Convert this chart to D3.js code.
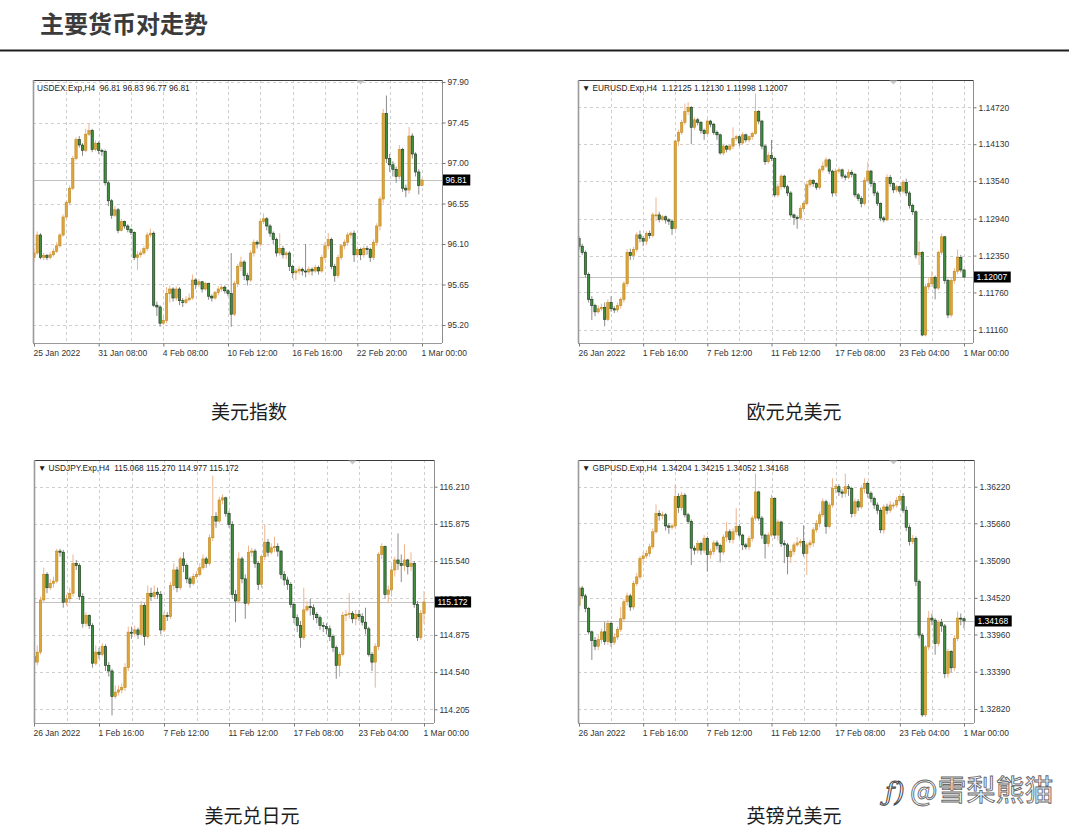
<!DOCTYPE html>
<html><head><meta charset="utf-8">
<script src="https://cdn.jsdelivr.net/npm/d3@7"></script>
<style>body{margin:0;background:#fff}svg{display:block}</style>
</head><body>
<svg id="c" width="1069" height="837"></svg>
<script>
// ---------------- DATA ----------------
const usdexOpen0 = 95.95;
const usdexClose = [96.00,96.20,95.95,95.97,95.95,95.98,96.02,96.08,96.20,96.40,
 96.56,96.72,97.05,97.26,97.20,97.14,97.32,97.36,97.15,97.22,
 97.14,97.13,96.78,96.58,96.42,96.48,96.25,96.35,96.30,96.26,
 96.23,95.95,95.98,96.00,96.05,96.20,96.22,95.42,95.40,95.22,
 95.25,95.55,95.60,95.50,95.60,95.47,95.45,95.48,95.50,95.70,
 95.65,95.68,95.60,95.66,95.52,95.50,95.56,95.60,95.62,95.58,
 95.55,95.32,95.66,95.85,95.90,95.75,95.70,96.00,96.12,96.10,
 96.35,96.38,96.30,96.22,96.15,96.00,96.05,95.98,96.00,95.85,
 95.78,95.80,95.82,95.80,95.79,95.82,95.80,95.84,95.80,95.95,
 96.08,96.15,95.85,95.75,95.95,96.08,96.12,96.20,96.22,95.98,
 96.04,95.98,96.05,96.04,95.95,96.12,96.30,96.60,97.55,97.05,
 96.98,96.93,96.85,97.15,96.72,96.70,97.30,97.10,96.90,96.75,
 96.81];
const usdexHigh = [96.05,96.24,96.22,96.00,95.99,96.01,96.05,96.12,96.22,96.43,
 96.58,96.75,97.08,97.29,97.30,97.22,97.38,97.44,97.38,97.25,
 97.24,97.16,97.15,96.80,96.60,96.52,96.50,96.38,96.36,96.32,
 96.28,96.24,96.02,96.03,96.08,96.23,96.27,96.24,95.46,95.42,
 95.30,95.62,95.64,95.62,95.63,95.62,95.50,95.52,95.55,95.76,
 95.72,95.71,95.69,95.68,95.67,95.54,95.58,95.63,95.64,95.64,
 95.60,96.00,95.69,95.88,95.96,95.92,95.78,96.03,96.15,96.14,
 96.38,96.44,96.40,96.32,96.24,96.17,96.22,96.08,96.02,96.02,
 95.87,95.83,95.85,95.84,96.10,95.85,95.84,95.87,95.86,95.98,
 96.12,96.22,96.17,95.88,95.98,96.10,96.15,96.23,96.24,96.25,
 96.07,96.06,96.08,96.08,96.06,96.15,96.33,96.63,97.60,97.75,
 97.10,97.02,96.96,97.20,97.17,96.76,97.40,97.33,97.12,96.93,
 96.83];
const usdexLow = [95.90,95.98,95.93,95.92,95.92,95.93,95.96,96.00,96.06,96.18,
 96.38,96.53,96.70,97.03,97.17,97.08,97.12,97.30,97.12,97.13,
 97.10,97.08,96.75,96.52,96.38,96.40,96.22,96.24,96.27,96.23,
 96.20,95.92,95.81,95.95,95.98,96.02,96.17,95.40,95.30,95.18,
 95.20,95.22,95.45,95.46,95.47,95.42,95.40,95.43,95.46,95.48,
 95.60,95.62,95.56,95.58,95.48,95.46,95.48,95.53,95.57,95.55,
 95.52,95.18,95.30,95.62,95.80,95.70,95.64,95.68,95.96,96.05,
 96.07,96.32,96.25,96.18,96.10,95.96,95.97,95.94,95.93,95.80,
 95.72,95.70,95.76,95.75,95.73,95.76,95.75,95.78,95.76,95.78,
 95.92,96.04,95.82,95.68,95.72,95.92,96.04,96.08,96.16,95.90,
 95.95,95.92,95.95,95.98,95.90,95.92,96.08,96.25,96.55,97.00,
 96.90,96.85,96.78,96.82,96.68,96.62,96.66,97.05,96.85,96.65,
 96.74];
const usdexTicks = [97.90,97.45,97.00,96.55,96.10,95.65,95.20];

const eurusdOpen0 = 1.1262;
const eurusdClose = [1.1250,1.1240,1.1205,1.1165,1.1155,1.1145,1.1150,1.1152,1.1133,1.1160,
 1.1150,1.1148,1.1155,1.1165,1.1190,1.1240,1.1235,1.1245,1.1268,1.1262,
 1.1258,1.1270,1.1267,1.1300,1.1300,1.1293,1.1297,1.1292,1.1290,1.1278,
 1.1418,1.1432,1.1448,1.1465,1.1472,1.1440,1.1452,1.1448,1.1435,1.1430,
 1.1450,1.1445,1.1432,1.1428,1.1399,1.1410,1.1405,1.1410,1.1422,1.1425,
 1.1415,1.1428,1.1420,1.1425,1.1430,1.1465,1.1450,1.1410,1.1385,1.1395,
 1.1390,1.1332,1.1345,1.1362,1.1345,1.1335,1.1300,1.1296,1.1295,1.1310,
 1.1318,1.1348,1.1355,1.1350,1.1344,1.1372,1.1378,1.1388,1.1370,1.1335,
 1.1370,1.1372,1.1362,1.1360,1.1368,1.1365,1.1332,1.1326,1.1318,1.1355,
 1.1370,1.1350,1.1335,1.1318,1.1295,1.1292,1.1360,1.1350,1.1340,1.1345,
 1.1338,1.1352,1.1335,1.1315,1.1305,1.1236,1.1240,1.1108,1.1185,1.1190,
 1.1200,1.1183,1.1240,1.1265,1.1195,1.1140,1.1195,1.1210,1.1232,1.1212,
 1.12007];
const eurusdHigh = [1.1266,1.1254,1.1243,1.1208,1.1170,1.1158,1.1155,1.1158,1.1160,1.1165,
 1.1170,1.1154,1.1160,1.1168,1.1194,1.1245,1.1246,1.1249,1.1272,1.1275,
 1.1266,1.1274,1.1275,1.1304,1.1328,1.1305,1.1300,1.1299,1.1295,1.1293,
 1.1420,1.1436,1.1452,1.1478,1.1480,1.1474,1.1456,1.1455,1.1450,1.1438,
 1.1453,1.1452,1.1447,1.1435,1.1430,1.1414,1.1412,1.1413,1.1440,1.1428,
 1.1427,1.1432,1.1430,1.1427,1.1433,1.1494,1.1468,1.1452,1.1412,1.1400,
 1.1420,1.1393,1.1350,1.1365,1.1364,1.1348,1.1338,1.1302,1.1299,1.1315,
 1.1322,1.1352,1.1358,1.1357,1.1352,1.1375,1.1385,1.1392,1.1390,1.1372,
 1.1374,1.1376,1.1374,1.1365,1.1373,1.1372,1.1367,1.1335,1.1330,1.1360,
 1.1385,1.1372,1.1353,1.1338,1.1320,1.1298,1.1365,1.1364,1.1352,1.1348,
 1.1347,1.1356,1.1358,1.1338,1.1318,1.1307,1.1258,1.1242,1.1190,1.1200,
 1.1210,1.1203,1.1243,1.1270,1.1266,1.1198,1.1199,1.1215,1.1245,1.1236,
 1.1213];
const eurusdLow = [1.1244,1.1236,1.1200,1.1160,1.1132,1.1138,1.1142,1.1146,1.1122,1.1130,
 1.1145,1.1143,1.1144,1.1150,1.1160,1.1185,1.1228,1.1228,1.1240,1.1256,
 1.1250,1.1252,1.1262,1.1264,1.1290,1.1288,1.1290,1.1286,1.1284,1.1268,
 1.1276,1.1410,1.1428,1.1444,1.1460,1.1413,1.1436,1.1443,1.1430,1.1420,
 1.1428,1.1440,1.1428,1.1420,1.1396,1.1395,1.1400,1.1402,1.1405,1.1418,
 1.1410,1.1412,1.1416,1.1416,1.1420,1.1428,1.1445,1.1405,1.1380,1.1382,
 1.1386,1.1328,1.1328,1.1340,1.1342,1.1330,1.1296,1.1284,1.1278,1.1292,
 1.1305,1.1315,1.1344,1.1345,1.1340,1.1340,1.1368,1.1375,1.1365,1.1329,
 1.1330,1.1366,1.1358,1.1355,1.1357,1.1360,1.1328,1.1322,1.1312,1.1315,
 1.1352,1.1345,1.1330,1.1314,1.1290,1.1288,1.1290,1.1345,1.1335,1.1336,
 1.1333,1.1334,1.1330,1.1310,1.1300,1.1230,1.1220,1.1106,1.1106,1.1180,
 1.1185,1.1165,1.1180,1.1236,1.1190,1.1135,1.1136,1.1190,1.1205,1.1208,
 1.11998];
const eurusdTicks = [1.14720,1.14130,1.13540,1.12940,1.12350,1.11760,1.11160];

const usdjpyOpen0 = 114.68;
const usdjpyClose = [114.63,114.72,115.19,115.42,115.30,115.34,115.36,115.63,115.62,115.17,
 115.20,115.25,115.52,115.50,115.22,114.98,115.05,114.96,114.62,114.72,
 114.70,114.77,114.60,114.55,114.32,114.36,114.38,114.40,114.58,114.90,
 114.89,114.92,114.88,115.14,114.86,115.25,115.22,115.26,115.24,114.92,
 115.05,115.04,115.32,115.46,115.30,115.56,115.50,115.38,115.34,115.40,
 115.42,115.48,115.56,115.52,115.75,115.94,115.90,116.09,116.11,115.97,
 115.87,115.24,115.18,115.56,115.38,115.16,115.62,115.63,115.52,115.33,
 115.58,115.71,115.62,115.66,115.67,115.63,115.42,115.37,115.33,115.15,
 115.03,114.96,114.85,115.10,115.13,115.12,115.06,115.03,114.96,114.95,
 114.93,114.86,114.76,114.60,114.70,115.05,115.06,115.07,115.02,115.06,
 115.04,114.99,114.93,114.70,114.63,114.77,115.60,115.67,115.24,115.28,
 115.46,115.55,115.52,115.50,115.55,115.49,115.52,115.15,114.85,115.07,
 115.172];
const usdjpyHigh = [114.72,114.78,115.22,115.48,115.44,115.38,115.40,115.65,115.65,115.64,
 115.24,115.30,115.60,115.55,115.52,115.25,115.08,115.06,114.98,114.78,
 114.76,114.80,114.79,114.63,114.57,114.42,114.42,114.44,114.62,114.95,
 114.95,114.96,114.94,115.18,115.16,115.32,115.30,115.32,115.30,115.27,
 115.08,115.08,115.35,115.52,115.49,115.58,115.62,115.52,115.40,115.43,
 115.45,115.52,115.60,115.58,115.78,116.31,115.98,116.12,116.14,116.12,
 115.99,115.90,115.28,115.62,115.58,115.42,115.68,115.66,115.65,115.54,
 115.60,115.87,115.74,115.70,115.76,115.70,115.64,115.45,115.40,115.35,
 115.17,115.06,115.00,115.30,115.18,115.20,115.15,115.08,115.05,114.99,
 114.98,114.96,114.88,114.78,114.72,115.08,115.10,115.25,115.09,115.10,
 115.10,115.07,115.12,114.95,114.72,114.80,115.62,115.70,115.68,115.32,
 115.50,115.58,115.79,115.60,115.69,115.56,115.62,115.54,115.18,115.10,
 115.27];
const usdjpyLow = [114.45,114.60,114.70,115.17,115.25,115.28,115.30,115.34,115.58,115.12,
 115.14,115.17,115.22,115.46,115.19,114.94,114.95,114.93,114.58,114.60,
 114.66,114.68,114.55,114.50,114.15,114.30,114.33,114.35,114.37,114.55,
 114.84,114.86,114.84,114.86,114.78,114.84,115.18,115.20,115.20,114.88,
 114.90,115.00,115.02,115.28,115.26,115.28,115.44,115.34,115.30,115.32,
 115.38,115.40,115.46,115.48,115.50,115.72,115.84,115.88,116.05,115.94,
 115.84,115.20,114.99,115.16,115.34,115.02,115.14,115.58,115.48,115.28,
 115.30,115.55,115.58,115.60,115.62,115.58,115.38,115.32,115.28,115.12,
 114.98,114.90,114.76,114.83,115.08,115.05,115.01,114.98,114.92,114.90,
 114.88,114.82,114.72,114.48,114.50,114.68,115.00,115.02,114.98,114.96,
 115.00,114.96,114.88,114.68,114.55,114.40,114.74,115.56,115.20,115.16,
 115.22,115.40,115.46,115.35,115.45,115.42,115.45,115.12,114.82,114.83,
 114.977];
const usdjpyTicks = [116.210,115.875,115.540,115.205,114.875,114.540,114.205];

const gbpusdOpen0 = 1.3440;
const gbpusdClose = [1.3467,1.3455,1.3436,1.3400,1.3387,1.3378,1.3388,1.3400,1.3385,1.3413,
 1.3384,1.3392,1.3404,1.3420,1.3446,1.3455,1.3438,1.3474,1.3484,1.3512,
 1.3516,1.3520,1.3530,1.3553,1.3581,1.3578,1.3579,1.3562,1.3560,1.3562,
 1.3607,1.3590,1.3609,1.3579,1.3569,1.3528,1.3525,1.3535,1.3525,1.3543,
 1.3518,1.3523,1.3536,1.3532,1.3522,1.3545,1.3553,1.3541,1.3553,1.3561,
 1.3548,1.3533,1.3530,1.3543,1.3574,1.3614,1.3574,1.3548,1.3535,1.3548,
 1.3604,1.3548,1.3568,1.3535,1.3533,1.3515,1.3523,1.3533,1.3536,1.3538,
 1.3520,1.3533,1.3536,1.3556,1.3566,1.3579,1.3599,1.3561,1.3594,1.3619,
 1.3622,1.3614,1.3612,1.3622,1.3619,1.3581,1.3599,1.3591,1.3619,1.3627,
 1.3612,1.3604,1.3594,1.3586,1.3556,1.3591,1.3586,1.3594,1.3594,1.3601,
 1.3607,1.3586,1.3560,1.3538,1.3543,1.3477,1.3395,1.3273,1.3377,1.3421,
 1.3418,1.3382,1.3414,1.3409,1.3336,1.3370,1.3345,1.3390,1.3421,1.3420,
 1.34168];
const gbpusdHigh = [1.3470,1.3470,1.3458,1.3438,1.3402,1.3392,1.3395,1.3405,1.3415,1.3418,
 1.3416,1.3398,1.3408,1.3438,1.3450,1.3460,1.3458,1.3478,1.3490,1.3516,
 1.3522,1.3525,1.3535,1.3558,1.3595,1.3586,1.3584,1.3582,1.3566,1.3566,
 1.3625,1.3612,1.3614,1.3612,1.3582,1.3572,1.3532,1.3540,1.3538,1.3548,
 1.3546,1.3527,1.3540,1.3540,1.3535,1.3549,1.3568,1.3557,1.3558,1.3589,
 1.3565,1.3550,1.3536,1.3547,1.3578,1.3642,1.3616,1.3577,1.3550,1.3552,
 1.3610,1.3606,1.3572,1.3570,1.3540,1.3536,1.3527,1.3537,1.3545,1.3542,
 1.3563,1.3537,1.3540,1.3560,1.3571,1.3584,1.3604,1.3602,1.3598,1.3635,
 1.3626,1.3626,1.3618,1.3642,1.3626,1.3622,1.3604,1.3603,1.3624,1.3635,
 1.3630,1.3615,1.3607,1.3598,1.3590,1.3595,1.3596,1.3600,1.3598,1.3606,
 1.3611,1.3612,1.3592,1.3564,1.3548,1.3546,1.3480,1.3398,1.3380,1.3432,
 1.3428,1.3421,1.3418,1.3420,1.3412,1.3374,1.3372,1.3395,1.3431,1.3428,
 1.34215];
const gbpusdLow = [1.3432,1.3450,1.3430,1.3396,1.3357,1.3372,1.3372,1.3382,1.3380,1.3380,
 1.3377,1.3380,1.3388,1.3400,1.3415,1.3440,1.3432,1.3434,1.3470,1.3480,
 1.3505,1.3512,1.3515,1.3526,1.3550,1.3570,1.3572,1.3555,1.3550,1.3556,
 1.3558,1.3582,1.3585,1.3575,1.3565,1.3502,1.3518,1.3520,1.3518,1.3520,
 1.3492,1.3512,1.3518,1.3526,1.3506,1.3518,1.3538,1.3536,1.3535,1.3548,
 1.3544,1.3525,1.3526,1.3525,1.3538,1.3570,1.3570,1.3542,1.3512,1.3530,
 1.3545,1.3542,1.3540,1.3530,1.3505,1.3488,1.3505,1.3518,1.3530,1.3530,
 1.3515,1.3487,1.3528,1.3530,1.3552,1.3560,1.3575,1.3550,1.3558,1.3590,
 1.3612,1.3608,1.3605,1.3606,1.3608,1.3575,1.3576,1.3585,1.3588,1.3612,
 1.3605,1.3598,1.3588,1.3580,1.3551,1.3550,1.3580,1.3582,1.3588,1.3590,
 1.3598,1.3582,1.3554,1.3532,1.3534,1.3470,1.3390,1.3270,1.3270,1.3372,
 1.3410,1.3365,1.3378,1.3400,1.3329,1.3330,1.3338,1.3340,1.3386,1.3410,
 1.34052];
const gbpusdTicks = [1.36220,1.35660,1.35090,1.34520,1.33960,1.33390,1.32820];

const dateIdx = [0,20,40,60,80,100,120];
const usdexDates = ["25 Jan 2022","31 Jan 08:00","4 Feb 08:00","10 Feb 12:00","16 Feb 16:00","22 Feb 20:00","1 Mar 00:00"];
const fxDates = ["26 Jan 2022","1 Feb 16:00","7 Feb 12:00","11 Feb 12:00","17 Feb 08:00","23 Feb 04:00","1 Mar 00:00"];
const headers = ["USDEX.Exp,H4  96.81 96.83 96.77 96.81",
 "\u25BC EURUSD.Exp,H4  1.12125 1.12130 1.11998 1.12007",
 "\u25BC USDJPY.Exp,H4  115.068 115.270 114.977 115.172",
 "\u25BC GBPUSD.Exp,H4  1.34204 1.34215 1.34052 1.34168"];
const captions = ["美元指数","欧元兑美元","美元兑日元","英镑兑美元"];
const pageTitle = "主要货币对走势";
const watermark = "@雪梨熊猫";

// ---------------- LAYOUT / STYLE ----------------
const charts = [
 {close:usdexClose,high:usdexHigh,low:usdexLow,open0:usdexOpen0,ticks:usdexTicks,fmt:".2f",dates:usdexDates,header:headers[0],caption:captions[0],
  L:{left:33,right:442,top:80,bottom:343,x0:34,x1:422,yTop:82,yBot:325,capX:249,capY:419,marker:101}},
 {close:eurusdClose,high:eurusdHigh,low:eurusdLow,open0:eurusdOpen0,ticks:eurusdTicks,fmt:".5f",dates:fxDates,header:headers[1],caption:captions[1],
  L:{left:578,right:973,top:80,bottom:343,x0:579,x1:964,yTop:107.3,yBot:330,capX:794,capY:419,marker:98}},
 {close:usdjpyClose,high:usdjpyHigh,low:usdjpyLow,open0:usdjpyOpen0,ticks:usdjpyTicks,fmt:".3f",dates:fxDates,header:headers[2],caption:captions[2],
  L:{left:34,right:434,top:460,bottom:723,x0:34,x1:424,yTop:486.7,yBot:709.3,capX:252,capY:823,marker:98}},
 {close:gbpusdClose,high:gbpusdHigh,low:gbpusdLow,open0:gbpusdOpen0,ticks:gbpusdTicks,fmt:".5f",dates:fxDates,header:headers[3],caption:captions[3],
  L:{left:578,right:974,top:460,bottom:723,x0:579,x1:964,yTop:486.7,yBot:709,capX:794,capY:823,marker:98}}
];
const COL = {bullBody:"#dda43a",bullEdge:"#bf8b22",bullWick:"#efb48e",bearBody:"#3e8e3e",bearEdge:"#1b331b",bearWick:"#8c8c8c",grid:"#cfcfcf",frame:"#8e8e8e",text:"#333"};
const NUMFONT = "'Liberation Sans', Arial, sans-serif";
const CJK = "'Noto Sans CJK SC', sans-serif";

const svg = d3.select("#c");
svg.append("rect").attr("width",1069).attr("height",837).attr("fill","#fff");

svg.append("text").attr("x",40).attr("y",33).text(pageTitle)
  .attr("font-family",CJK).attr("font-weight",700).attr("font-size",24).attr("fill","#3b3b3b");
svg.append("rect").attr("x",0).attr("y",49.5).attr("width",1069).attr("height",2).attr("fill","#1e1e1e");

charts.forEach((c,ci)=>{
  const L=c.L;
  const g=svg.append("g");
  const n=c.close.length;
  const x=d3.scaleLinear().domain([0,n-1]).range([L.x0,L.x1]);
  const y=d3.scaleLinear().domain([d3.min(c.ticks),d3.max(c.ticks)]).range([L.yBot,L.yTop]);
  const open=c.close.map((v,i)=>i===0?c.open0:c.close[i-1]);
  const step=x(1)-x(0), bw=step*0.72;
  const clipId="clip"+ci;
  svg.append("clipPath").attr("id",clipId).append("rect")
    .attr("x",L.left).attr("y",L.top).attr("width",L.right-L.left).attr("height",L.bottom-L.top);

  // grid
  g.append("g").selectAll("line").data(c.ticks).join("line")
    .attr("x1",L.left).attr("x2",L.right)
    .attr("y1",d=>Math.round(y(d))+0.5).attr("y2",d=>Math.round(y(d))+0.5)
    .attr("stroke",COL.grid).attr("stroke-dasharray","3,3");
  g.append("g").selectAll("line").data(d3.range(10,n,10)).join("line")
    .attr("x1",d=>Math.round(x(d))+0.5).attr("x2",d=>Math.round(x(d))+0.5)
    .attr("y1",L.top).attr("y2",L.bottom)
    .attr("stroke",COL.grid).attr("stroke-dasharray","3,3");
  // current price line
  const last=c.close[n-1];
  g.append("line").attr("x1",L.left).attr("x2",L.right)
    .attr("y1",Math.round(y(last))+0.5).attr("y2",Math.round(y(last))+0.5)
    .attr("stroke","#c2c2c2").attr("stroke-width",1);

  // candles
  const cg=g.append("g").attr("clip-path",`url(#${clipId})`);
  const idx=d3.range(n);
  cg.selectAll("line.w").data(idx).join("line").attr("class","w")
    .attr("x1",i=>x(i)).attr("x2",i=>x(i))
    .attr("y1",i=>y(c.high[i])).attr("y2",i=>y(c.low[i]))
    .attr("stroke",i=>c.close[i]>=open[i]?COL.bullWick:COL.bearWick).attr("stroke-width",1);
  cg.selectAll("rect.b").data(idx).join("rect").attr("class","b")
    .attr("x",i=>x(i)-bw/2).attr("width",bw)
    .attr("y",i=>y(Math.max(open[i],c.close[i])))
    .attr("height",i=>Math.max(1,Math.abs(y(open[i])-y(c.close[i]))))
    .attr("fill",i=>c.close[i]>=open[i]?COL.bullBody:COL.bearBody)
    .attr("stroke",i=>c.close[i]>=open[i]?COL.bullEdge:COL.bearEdge)
    .attr("stroke-width",0.6);

  // frame
  g.append("line").attr("x1",L.left).attr("x2",L.right).attr("y1",L.top+0.5).attr("y2",L.top+0.5).attr("stroke","#3a3a3a");
  g.append("line").attr("x1",L.left+0.5).attr("x2",L.left+0.5).attr("y1",L.top).attr("y2",L.bottom).attr("stroke","#9a9a9a").attr("stroke-width",1.6);
  g.append("line").attr("x1",L.left).attr("x2",L.right).attr("y1",L.bottom+0.5).attr("y2",L.bottom+0.5).attr("stroke","#9a9a9a");
  g.append("line").attr("x1",L.right+0.5).attr("x2",L.right+0.5).attr("y1",L.top).attr("y2",L.bottom).attr("stroke",COL.frame);

  // shift marker
  const mx=x(L.marker);
  g.append("path").attr("d",`M${mx-4},${L.top+0.5} L${mx+4},${L.top+0.5} L${mx},${L.top+4.5}Z`).attr("fill","#c8c8c8");

  // y axis
  const fmt=d3.format(c.fmt);
  g.append("g").attr("transform",`translate(${L.right+0.5},0)`)
    .call(d3.axisRight(y).tickValues(c.ticks).tickFormat(fmt).tickSize(3).tickPadding(2))
    .attr("font-family",NUMFONT).attr("font-size",8.5).attr("color",COL.text)
    .call(a=>{a.select(".domain").remove(); a.selectAll("line").attr("stroke","#777");});

  // x axis
  g.append("g").attr("transform",`translate(0,${L.bottom+0.5})`)
    .call(d3.axisBottom(x).tickValues(dateIdx).tickFormat((d,i)=>c.dates[i]).tickSize(3).tickPadding(3))
    .attr("font-family",NUMFONT).attr("font-size",8.5).attr("color",COL.text)
    .call(a=>{a.select(".domain").remove(); a.selectAll("line").attr("stroke","#777"); a.selectAll("text").attr("text-anchor","start").attr("x",-1);});

  // price box
  const py=Math.round(y(last));
  const pb=g.append("g");
  const r=pb.append("rect").attr("fill","#000");
  const t=pb.append("text").attr("x",L.right+3.5).attr("y",py+3.2).text(fmt(last))
    .attr("font-family",NUMFONT).attr("font-size",8.5).attr("fill","#fff");
  const tw=t.node().getComputedTextLength();
  r.attr("x",L.right+1).attr("y",py-5.5).attr("width",tw+6).attr("height",11);

  // header
  g.append("text").attr("x",L.left+4).attr("y",L.top+11).text(c.header)
    .attr("xml:space","preserve").style("white-space","pre")
    .attr("font-family",NUMFONT).attr("font-size",8.3).attr("fill","#222");

  // caption
  svg.append("text").attr("x",L.capX).attr("y",L.capY).attr("text-anchor","middle").text(c.caption)
    .attr("font-family",CJK).attr("font-size",19).attr("fill","#1e1e1e");
});

// watermark
const wm=svg.append("g");
wm.append("text").attr("x",885).attr("y",801).text("ƒ)").attr("font-family","'DejaVu Serif', serif").attr("font-style","italic")
  .attr("font-size",26).attr("fill","#fff").attr("stroke","#444").attr("stroke-width",1);
wm.append("text").attr("x",910).attr("y",801).text(watermark).attr("font-family",CJK)
  .attr("font-size",29).attr("fill","#fff").attr("stroke","#666").attr("stroke-width",0.9);
</script>
</body></html>
